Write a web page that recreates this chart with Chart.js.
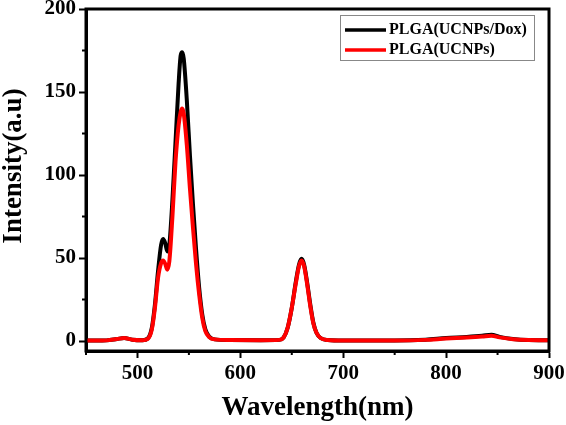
<!DOCTYPE html>
<html>
<head>
<meta charset="utf-8">
<script src="https://cdn.jsdelivr.net/npm/chart.js@4.4.1/dist/chart.umd.min.js"></script>
<style>
  html, body { margin: 0; padding: 0; background: #fff; }
  #wrap { width: 566px; height: 425px; }
</style>
</head>
<body>
<div id="wrap"><canvas id="c" width="566" height="425"></canvas></div>
<script>
// wavelength (nm) shared by both spectra
const wavelength = [450, 460, 470, 480, 487, 495, 505, 510,
    514, 517, 520, 523, 525, 527, 529, 531,
    534, 537, 540, 542, 543.5, 545, 548, 551,
    554, 557, 560, 563, 566, 570, 575, 590,
    620, 638, 642, 646, 650, 654, 657, 659.5,
    662, 665, 668, 671, 674, 678, 685, 700,
    750, 780, 800, 820, 835, 844, 852, 865,
    880, 900]

const dox = [0.3, 0.3, 0.4, 1.2, 1.8, 0.8, 0.5, 1.5,
    8, 22, 42, 58, 61.5, 59, 54, 58,
    85, 120, 155, 172, 174, 170, 145, 112,
    82, 55, 32, 16, 7, 2.5, 1, 0.6,
    0.5, 0.7, 2, 8, 20, 36, 46, 49.5,
    46, 35, 22, 11, 5, 1.8, 0.6, 0.3,
    0.3, 0.8, 1.8, 2.5, 3.2, 3.8, 2.5, 1.2,
    0.6, 0.5]

const plain = [0.3, 0.3, 0.4, 1.2, 1.8, 0.8, 0.5, 1.3,
    7, 20, 38, 47, 48.5, 46.5, 43, 48,
    75, 108, 130, 138, 140, 137, 118, 92,
    68, 46, 28, 14, 6, 2.2, 1, 0.6,
    0.5, 0.7, 2, 8, 20, 35, 45, 48.5,
    45, 34, 21, 10.5, 5, 1.8, 0.6, 0.3,
    0.3, 0.7, 1.5, 2.1, 2.7, 3.2, 2.2, 1.1,
    0.6, 0.5]

const labels = ['PLGA(UCNPs/Dox)', 'PLGA(UCNPs)']
const colors = ['#000000', '#ff0000']
const xTicks = [450, 500, 550, 600, 650, 700, 750, 800, 850, 900]
const yTicks = [0, 25, 50, 75, 100, 125, 150, 175, 200]
const yTitle = 'Intensity(a.u)'

const serif = "'Liberation Serif', 'Times New Roman', serif"

function pts(ys) {
    return wavelength.map((x, i) => ({x: x, y: ys[i]}))
}

function major(step) {
    return c => c.tick && c.tick.value % step === 0 ? '#000' : 'rgba(0,0,0,0)'
}

// box round the plot, short minor ticks, y title and the legend
const frame = {
    id: 'frame',
    afterDraw(chart) {
        const ctx = chart.ctx
        const a = chart.chartArea
        const sx = chart.scales.x
        const sy = chart.scales.y
        ctx.save()
        ctx.strokeStyle = '#000'
        ctx.lineWidth = 3
        ctx.strokeRect(a.left, a.top, a.right - a.left, a.bottom - a.top)

        ctx.lineWidth = 2
        ctx.beginPath()
        xTicks.filter(v => v % 100 !== 0).forEach(v => {
            const px = sx.getPixelForValue(v)
            ctx.moveTo(px, a.bottom)
            ctx.lineTo(px, a.bottom + 4)
        })
        yTicks.filter(v => v % 50 !== 0).forEach(v => {
            const py = sy.getPixelForValue(v)
            ctx.moveTo(a.left, py)
            ctx.lineTo(a.left - 4, py)
        })
        ctx.stroke()

        ctx.fillStyle = '#000'
        ctx.font = 'bold 27px ' + serif
        ctx.textAlign = 'center'
        ctx.textBaseline = 'middle'
        ctx.save()
        ctx.translate(14, 166)
        ctx.rotate(-Math.PI / 2)
        ctx.fillText(yTitle, 0, 0)
        ctx.restore()

        ctx.lineWidth = 1
        ctx.strokeStyle = '#888'
        ctx.strokeRect(340.5, 15.5, 194, 45)
        ctx.font = 'bold 16px ' + serif
        ctx.textAlign = 'left'
        for (let i = 0; i < labels.length; i++) {
            const y = 30 + i * 20
            ctx.strokeStyle = colors[i]
            ctx.lineWidth = 3.5
            ctx.beginPath()
            ctx.moveTo(345, y)
            ctx.lineTo(386, y)
            ctx.stroke()
            ctx.fillText(labels[i], 389, y)
        }
        ctx.restore()
    }
}

new Chart(document.getElementById('c'), {
    type: 'line',
    data: {
        datasets: [{
            label: labels[0],
            data: pts(dox),
            borderColor: colors[0],
            borderWidth: 4,
            order: 1
        }, {
            label: labels[1],
            data: pts(plain),
            borderColor: colors[1],
            borderWidth: 4,
            order: 0
        }]
    },
    options: {
        responsive: false,
        animation: false,
        layout: { padding: { top: 9, right: 17, left: 0, bottom: 0 } },
        elements: {
            point: { radius: 0 },
            line: { cubicInterpolationMode: 'monotone', fill: false }
        },
        plugins: { legend: { display: false }, tooltip: { enabled: false } },
        scales: {
            x: {
                type: 'linear',
                min: 450,
                max: 900,
                afterBuildTicks: s => { s.ticks = xTicks.map(v => ({value: v})) },
                afterFit: s => { s.height = 74; s.paddingRight = 0; s.paddingLeft = 0 },
                border: { color: '#000', width: 3 },
                grid: { drawOnChartArea: false, tickLength: 7, tickWidth: 2, tickColor: major(100) },
                ticks: {
                    color: '#000',
                    padding: 3,
                    maxRotation: 0,
                    font: { family: serif, size: 21, weight: 'bold' },
                    callback: v => v % 100 === 0 ? v : ''
                },
                title: {
                    display: true,
                    text: 'Wavelength(nm)',
                    color: '#000',
                    padding: { top: 2, bottom: 1 },
                    font: { family: serif, size: 27, weight: 'bold' }
                }
            },
            y: {
                min: -6,
                max: 200,
                afterBuildTicks: s => { s.ticks = yTicks.map(v => ({value: v})) },
                afterFit: s => { s.width = 86; s.paddingTop = 0; s.paddingBottom = 0 },
                border: { color: '#000', width: 3 },
                grid: { drawOnChartArea: false, tickLength: 7, tickWidth: 2, tickColor: major(50) },
                ticks: {
                    color: '#000',
                    padding: 3,
                    font: { family: serif, size: 21, weight: 'bold' },
                    callback: v => v % 50 === 0 ? v : ''
                }
            }
        }
    },
    plugins: [frame]
})
</script>
</body>
</html>
